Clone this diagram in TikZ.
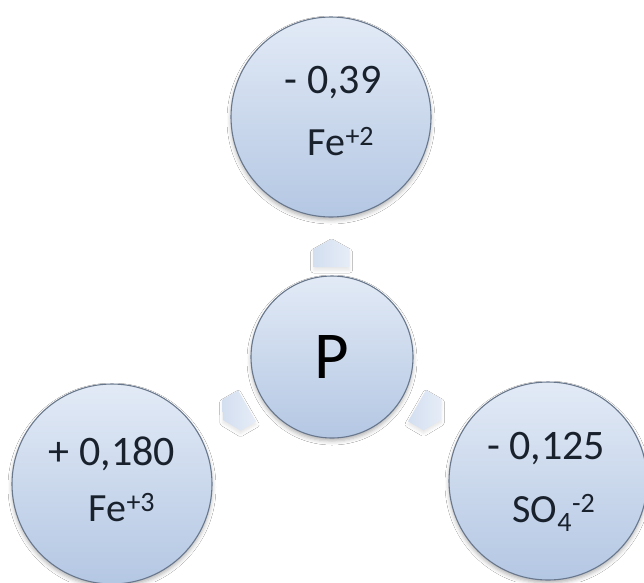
\documentclass[tikz,border=0pt]{standalone}
\usepackage{fontspec}
\setmainfont{Carlito}
\usetikzlibrary{calc,shadows.blur}

\definecolor{rim}{HTML}{68778C}
\definecolor{bubtop}{HTML}{E2EAF6}
\definecolor{bubbot}{HTML}{B4C7E3}
\definecolor{ink}{HTML}{19212C}
\definecolor{chevtop}{HTML}{E6EDF8}
\definecolor{chevbot}{HTML}{D3DEEF}

\tikzset{
  bubble/.style={circle, draw=rim, line width=1.1pt,
    top color=bubtop, bottom color=bubbot, inner sep=0pt,
    blur shadow={shadow xshift=0pt, shadow yshift=-3pt,
      shadow blur radius=4pt, shadow opacity=30}},
  value/.style={anchor=base, text=ink, inner sep=0pt,
    font=\fontsize{42}{46}\selectfont},
  ion/.style={anchor=base, text=ink, inner sep=0pt,
    font=\fontsize{40}{44}\selectfont},
  pchevron/.pic={
    \shade[left color=chevbot, right color=chevtop,
        blur shadow={shadow xshift=0pt, shadow yshift=-3pt,
        shadow blur radius=3pt, shadow opacity=10}]
      (-14,-18) -- (4,-18) -- (14,0) -- (4,18) -- (-14,18) -- cycle;
  }
}

\begin{document}
\begin{tikzpicture}[x=1pt, y=-1pt]
  \useasboundingbox (0,0) rectangle (644,582);
  \fill[white] (0,0) rectangle (644,582);

  % the four circles
  \node[bubble, minimum size=200pt] (fe2) at (331,117) {};
  \node[bubble, minimum size=162pt] (P)   at (332,357) {};
  \node[bubble, minimum size=200pt] (fe3) at (112,484) {};
  \node[bubble, minimum size=198pt] (so4) at (548,481) {};

  % block arrows pointing away from the centre
  \path ($(P)!104pt!(fe2)$) pic[rotate=90]  {pchevron};
  \path ($(P)!112pt!(fe3)$) pic[rotate=210] {pchevron};
  \path ($(P)!112pt!(so4)$) pic[rotate=-30] {pchevron};

  % centre letter
  \node[anchor=base, inner sep=0pt, font=\fontsize{67}{70}\selectfont]
    (Ptxt) at ($(P)+(0,21)$) {P};

  % potentials and species
  \node[value] (v2) at ($(fe2)+(2,-24)$) {- 0,39};
  \node[ion]   (i2) at ($(fe2)+(10,38)$) {Fe\textsuperscript{+2}};

  \node[value] (v3) at ($(fe3)+(0,-19)$) {+ 0,180};
  \node[ion]   (i3) at ($(fe3)+(10,37)$) {Fe\textsuperscript{+3}};

  \node[value] (v4) at ($(so4)+(-2,-22)$) {- 0,125};
  \node[ion]   (i4) at ($(so4)+(6,41)$)   {SO\textsubscript{4}\textsuperscript{-2}};
\end{tikzpicture}
\end{document}
